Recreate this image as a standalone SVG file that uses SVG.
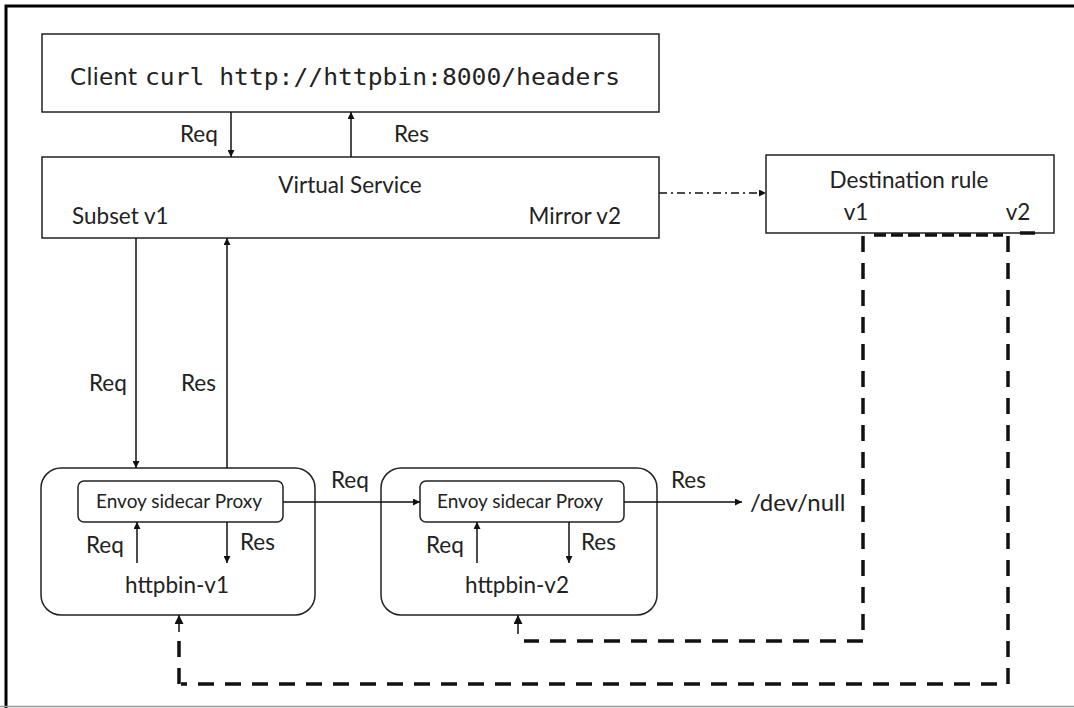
<svg xmlns="http://www.w3.org/2000/svg" width="1074" height="708" viewBox="0 0 1074 708">
<style>
.box{fill:#fff;stroke:#222;stroke-width:1.5}
.ln{stroke:#111;stroke-width:1.5;fill:none}
.dsh{stroke:#111;stroke-width:3.5;fill:none;stroke-dasharray:16,11}
.t{font-family:Lato,"Open Sans",sans-serif;font-size:22.5px;fill:#222}
.s{font-family:Lato,"Open Sans",sans-serif;font-size:19px;fill:#222}
</style>
<defs>
<marker id="ah" viewBox="0 0 10 10" refX="10" refY="5" markerWidth="8" markerHeight="7" markerUnits="userSpaceOnUse" orient="auto"><path d="M0,0L10,5L0,10z" fill="#111"/></marker>
<marker id="ahb" viewBox="0 0 10 10" refX="10" refY="5" markerWidth="10" markerHeight="9" markerUnits="userSpaceOnUse" orient="auto"><path d="M0,0L10,5L0,10z" fill="#111"/></marker>
</defs>
<rect width="1074" height="708" fill="#fff"/>
<path d="M6,708V6H1074" fill="none" stroke="#000" stroke-width="3"/>
<line x1="0" y1="706.5" x2="1074" y2="706.5" stroke="#999" stroke-width="1.5"/>

<g id="client">
<rect class="box" x="42" y="34" width="617" height="78"/>
<text x="70" y="85" font-family="'DejaVu Sans Condensed','DejaVu Sans',sans-serif" font-size="23" fill="#222" textLength="67" lengthAdjust="spacingAndGlyphs">Client</text>
<text x="145" y="85" font-family="'DejaVu Sans Mono',monospace" font-size="23" fill="#222" textLength="475" lengthAdjust="spacingAndGlyphs">curl http://httpbin:8000/headers</text>
</g>

<g id="virtual-service">
<rect class="box" x="42" y="157" width="617" height="81"/>
<text class="t" x="350" y="193" text-anchor="middle">Virtual Service</text>
<text class="t" x="72" y="224">Subset v1</text>
<text class="t" x="621" y="224" text-anchor="end">Mirror v2</text>
</g>

<g id="destination-rule">
<rect class="box" x="766" y="155" width="288" height="78"/>
<text class="t" x="909" y="188" text-anchor="middle">Destination rule</text>
<text class="t" x="856" y="220" text-anchor="middle">v1</text>
<text class="t" x="1018" y="220" text-anchor="middle">v2</text>
</g>

<g id="httpbin-v1">
<rect class="box" x="41" y="468" width="274" height="147" rx="20"/>
<rect class="box" x="78" y="481" width="205" height="41" rx="6"/>
<text class="s" x="179" y="508" text-anchor="middle">Envoy sidecar  Proxy</text>
<text class="t" x="177" y="593" text-anchor="middle">httpbin-v1</text>
</g>

<g id="httpbin-v2">
<rect class="box" x="381" y="468" width="276" height="147" rx="20"/>
<rect class="box" x="420" y="481" width="204" height="41" rx="6"/>
<text class="s" x="520" y="508" text-anchor="middle">Envoy sidecar Proxy</text>
<text class="t" x="517" y="593" text-anchor="middle">httpbin-v2</text>
</g>

<g id="devnull">
<text x="750" y="511" font-family="Lato,'Open Sans',sans-serif" font-size="24" fill="#222">/dev/null</text>
</g>

<g id="connectors">
<line class="ln" x1="231" y1="112" x2="231" y2="157" marker-end="url(#ah)"/>
<text class="t" x="180" y="142">Req</text>
<line class="ln" x1="351" y1="157" x2="351" y2="112" marker-end="url(#ah)"/>
<text class="t" x="394" y="142">Res</text>

<line class="ln" x1="659" y1="193" x2="766" y2="193" stroke-dasharray="8,4,2,4" marker-end="url(#ah)"/>

<line class="ln" x1="136" y1="238" x2="136" y2="468" marker-end="url(#ah)"/>
<text class="t" x="89" y="391">Req</text>
<line class="ln" x1="227" y1="468" x2="227" y2="238" marker-end="url(#ah)"/>
<text class="t" x="181" y="391">Res</text>

<line class="ln" x1="137" y1="563" x2="137" y2="522" marker-end="url(#ah)"/>
<text class="t" x="86" y="553">Req</text>
<line class="ln" x1="227" y1="522" x2="227" y2="563" marker-end="url(#ah)"/>
<text class="t" x="240" y="550">Res</text>

<line class="ln" x1="283" y1="502" x2="420" y2="502" marker-end="url(#ah)"/>
<text class="t" x="331" y="488">Req</text>

<line class="ln" x1="477" y1="563" x2="477" y2="522" marker-end="url(#ah)"/>
<text class="t" x="426" y="553">Req</text>
<line class="ln" x1="569" y1="522" x2="569" y2="563" marker-end="url(#ah)"/>
<text class="t" x="581" y="550">Res</text>

<line class="ln" x1="624" y1="502" x2="742" y2="502" marker-end="url(#ah)"/>
<text class="t" x="671" y="488">Res</text>

<path class="dsh" d="M863,236V641H524"/>
<line class="ln" x1="518" y1="634" x2="518" y2="615" stroke-width="2.5" marker-end="url(#ahb)"/>
<path class="dsh" d="M1008,236V684H181"/>
<path class="dsh" d="M179,684V630"/>
<line class="ln" x1="179" y1="632" x2="179" y2="615" stroke-width="2.5" marker-end="url(#ahb)"/>
<line class="dsh" x1="874" y1="235" x2="1003" y2="235" style="stroke-dasharray:12,5"/>
<line class="dsh" x1="1020" y1="233" x2="1035" y2="233" style="stroke-dasharray:none"/>
</g>
</svg>
